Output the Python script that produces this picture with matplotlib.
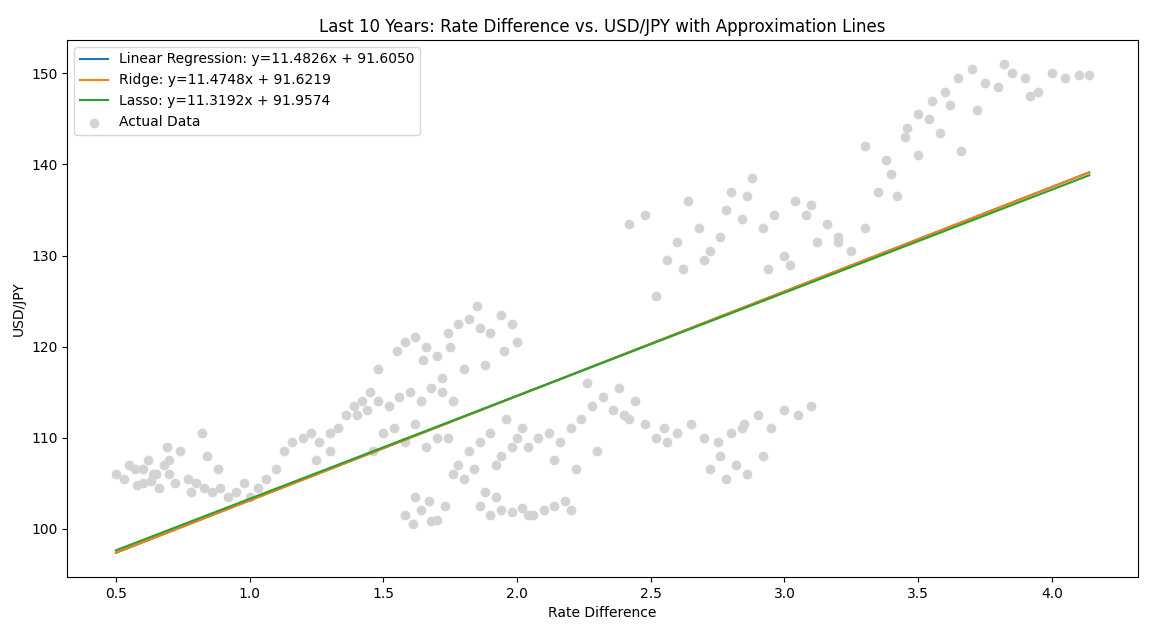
import numpy as np
import matplotlib.pyplot as plt

# scatter points read (roughly) off the picture, grouped by cluster
rate_diff = [
    # low cluster
    0.50, 0.53, 0.55, 0.57, 0.60, 0.62, 0.64, 0.66, 0.68, 0.70, 0.72, 0.74, 0.60, 0.65, 0.70, 0.58, 0.63, 0.69,
    0.77, 0.80, 0.83, 0.86, 0.89, 0.92, 0.95, 0.98, 0.82, 0.88, 0.78, 0.84,
    # rising arm
    1.00, 1.03, 1.06, 1.10, 1.13, 1.16, 1.20, 1.23, 1.26, 1.30, 1.33, 1.36, 1.39, 1.42, 1.45, 1.48, 1.30, 1.25,
    # mid-left band
    1.40, 1.44, 1.48, 1.52, 1.56, 1.60, 1.64, 1.68, 1.72, 1.76, 1.50, 1.58, 1.66, 1.74, 1.46, 1.54, 1.62, 1.70,
    # upper band 1.5-2.0
    1.55, 1.58, 1.62, 1.66, 1.70, 1.74, 1.78, 1.82, 1.86, 1.90, 1.94, 1.98, 2.00, 1.65, 1.75, 1.85, 1.95, 1.80, 1.88, 1.72,
    # low blob
    1.58, 1.61, 1.64, 1.67, 1.70, 1.73, 1.62, 1.68,
    # middle blob
    1.78, 1.82, 1.86, 1.90, 1.94, 1.98, 2.02, 1.80, 1.88, 1.96, 1.84, 1.92, 1.76, 2.00,
    # bottom strip
    1.86, 1.90, 1.94, 1.98, 2.02, 2.06, 2.10, 2.14, 2.18, 2.20, 1.92, 2.04,
    # 2.0-2.5 band
    2.04, 2.08, 2.12, 2.16, 2.20, 2.24, 2.28, 2.32, 2.36, 2.40, 2.44, 2.48, 2.52, 2.56, 2.14, 2.26, 2.38, 2.30, 2.42, 2.22,
    # right low band
    2.55, 2.60, 2.65, 2.70, 2.75, 2.80, 2.85, 2.90, 2.95, 3.00, 3.05, 3.10, 2.72, 2.82, 2.92, 2.78, 2.86, 2.76, 2.84,
    # upper arm
    2.42, 2.48, 2.52, 2.56, 2.60, 2.64, 2.68, 2.72, 2.76, 2.80, 2.84, 2.88, 2.92, 2.96, 3.00, 3.04, 3.08, 3.12, 3.16, 3.20,
    2.62, 2.70, 2.78, 2.86, 2.94, 3.02, 3.10,
    # top right
    3.20, 3.25, 3.30, 3.35, 3.40, 3.45, 3.50, 3.55, 3.60, 3.65, 3.70, 3.75, 3.80, 3.85, 3.90, 3.95, 4.00, 4.05, 4.10, 4.14,
    3.30, 3.38, 3.46, 3.54, 3.62, 3.42, 3.50, 3.58, 3.66, 3.72, 3.82, 3.92,
]
usd_jpy = [
    106.0, 105.5, 107.0, 106.5, 105.0, 107.5, 106.0, 104.5, 107.0, 106.0, 105.0, 108.5, 106.5, 106.0, 107.5, 104.8, 105.2, 109.0,
    105.5, 105.0, 104.5, 104.0, 104.5, 103.5, 104.0, 105.0, 110.5, 106.5, 104.0, 108.0,
    103.5, 104.5, 105.5, 106.5, 108.5, 109.5, 110.0, 110.5, 109.5, 110.5, 111.0, 112.5, 113.5, 114.0, 115.0, 117.5, 108.5, 107.5,
    112.5, 113.0, 114.0, 113.5, 114.5, 115.0, 114.0, 115.5, 115.0, 114.0, 110.5, 109.5, 109.0, 110.0, 108.5, 111.0, 111.5, 110.0,
    119.5, 120.5, 121.0, 120.0, 119.0, 121.5, 122.5, 123.0, 122.0, 121.5, 123.5, 122.5, 120.5, 118.5, 120.0, 124.5, 119.5, 117.5, 118.0, 116.5,
    101.5, 100.5, 102.0, 103.0, 101.0, 102.5, 103.5, 100.8,
    107.0, 108.5, 109.5, 110.5, 108.0, 109.0, 111.0, 105.5, 104.0, 112.0, 106.5, 107.0, 106.0, 110.0,
    102.5, 101.5, 102.0, 101.8, 102.3, 101.5, 102.0, 102.5, 103.0, 102.0, 103.5, 101.5,
    109.0, 110.0, 110.5, 109.5, 111.0, 112.0, 113.5, 114.5, 113.0, 112.5, 114.0, 111.5, 110.0, 109.5, 107.5, 116.0, 115.5, 108.5, 112.0, 106.5,
    111.0, 110.5, 111.5, 110.0, 109.5, 110.5, 111.5, 112.5, 111.0, 113.0, 112.5, 113.5, 106.5, 107.0, 108.0, 105.5, 106.0, 108.0, 111.0,
    133.5, 134.5, 125.5, 129.5, 131.5, 136.0, 133.0, 130.5, 132.0, 137.0, 134.0, 138.5, 133.0, 134.5, 130.0, 136.0, 134.5, 131.5, 133.5, 132.0,
    128.5, 129.5, 135.0, 136.5, 128.5, 129.0, 135.5,
    131.5, 130.5, 133.0, 137.0, 139.0, 143.0, 145.5, 147.0, 148.0, 149.5, 150.5, 149.0, 148.5, 150.0, 149.5, 148.0, 150.0, 149.5, 149.8, 149.8,
    142.0, 140.5, 144.0, 145.0, 146.5, 136.5, 141.0, 143.5, 141.5, 146.0, 151.0, 147.5,
]

models = ['Linear Regression', 'Ridge', 'Lasso']
slopes = [11.4826, 11.4748, 11.3192]
intercepts = [91.6050, 91.6219, 91.9574]
colors = ['#1f77b4', '#ff7f0e', '#2ca02c']

x = np.array(rate_diff)
xs = np.sort(x)

plt.figure(figsize=(11.6, 6.24), dpi=100)
for name, a, b, c in zip(models, slopes, intercepts, colors):
    plt.plot(xs, a * xs + b, color=c, label='{}: y={:.4f}x + {:.4f}'.format(name, a, b))
plt.scatter(rate_diff, usd_jpy, color='lightgray', label='Actual Data')
plt.title('Last 10 Years: Rate Difference vs. USD/JPY with Approximation Lines')
plt.xlabel('Rate Difference')
plt.ylabel('USD/JPY')
plt.legend(loc='upper left')
plt.subplots_adjust(left=0.058, right=0.981, top=0.936, bottom=0.075)
plt.savefig('out.png')
